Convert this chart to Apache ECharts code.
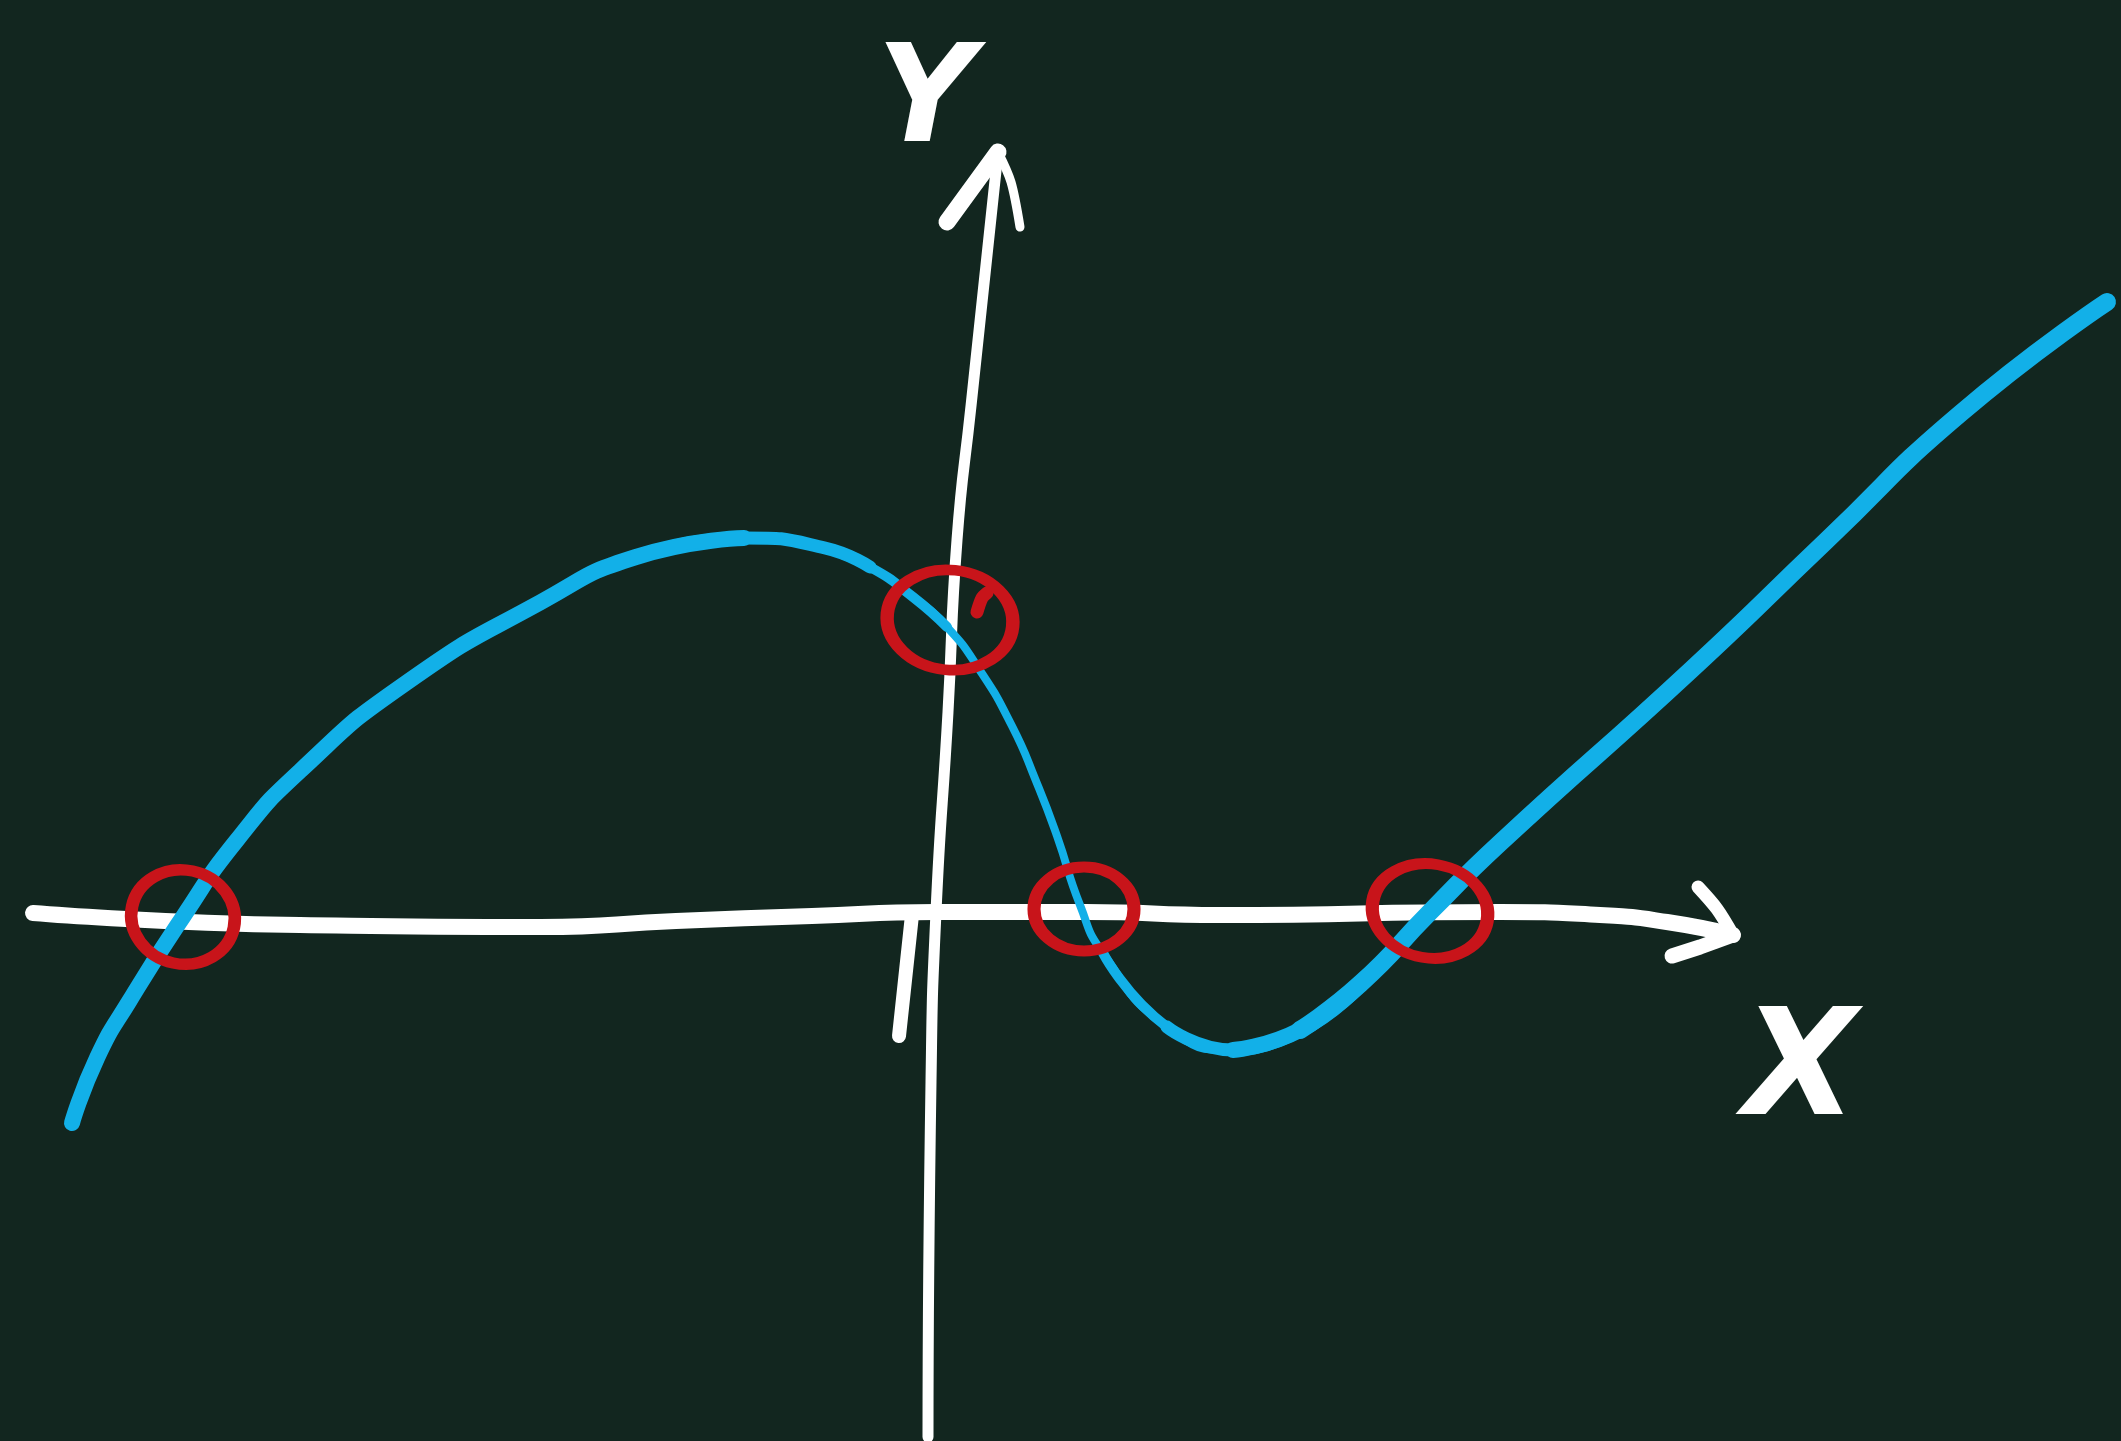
<!DOCTYPE html>
<html>
<head>
<meta charset="utf-8">
<style>
  html, body { margin: 0; padding: 0; background: #12261f; }
  #chart { width: 2121px; height: 1441px; }
</style>
<script src="https://cdn.jsdelivr.net/npm/echarts@6/dist/echarts.min.js"></script>
</head>
<body>
<div id="chart"></div>
<script>
// Chalkboard sketch of a cubic-like function with its three roots
// and its y-intercept circled. Units: x-axis is y = 0, y-axis is x = 0.

// graph of f, traced left to right
const curve = [
  [-8.64, -2.11], [-8.39, -1.46], [-8.06, -0.88], [-7.53, -0.05],
  [-6.99, 0.72], [-6.36, 1.41], [-5.30, 2.29], [-3.95, 3.10],
  [-3.00, 3.55], [-1.92, 3.74], [-1.11, 3.64], [-0.66, 3.45],
  [-0.23, 3.15], [0.11, 2.85], [0.43, 2.43], [0.76, 1.86],
  [1.00, 1.31], [1.21, 0.76], [1.44, 0.07], [1.67, -0.41],
  [2.31, -1.15], [2.97, -1.38], [3.64, -1.18], [4.24, -0.72],
  [4.94, 0.00], [5.64, 0.69], [7.55, 2.42], [8.90, 3.71],
  [10.25, 4.99], [11.71, 6.10]
];

// the three roots and the y-intercept
const marked = [
  [-7.53, -0.05], [0.14, 2.92], [1.48, 0.03], [4.94, 0.01]
];

// hand-drawn x-axis with its arrowhead
const xAxisStroke = [
  [-9.03, -0.01], [-6.36, -0.13], [-3.95, -0.15], [-2.60, -0.09],
  [-1.24, -0.04], [0.00, 0.00], [1.50, 0.00], [2.84, -0.03],
  [5.64, 0.00], [6.64, -0.03], [7.31, -0.10], [7.97, -0.23]
];
const xArrowUpper = [[7.62, 0.25], [7.81, 0.03], [7.97, -0.23]];
const xArrowLower = [[7.97, -0.23], [7.64, -0.35], [7.36, -0.44]];

// hand-drawn y-axis with its arrowhead
const yAxisStroke = [
  [0.62, 7.60], [0.35, 5.06], [0.21, 3.72], [0.12, 2.00],
  [0.00, 0.00], [-0.05, -1.70], [-0.08, -5.25]
];
const yArrowLeft = [[0.11, 6.90], [0.62, 7.60]];
const yArrowRight = [[0.62, 7.60], [0.75, 7.30], [0.84, 6.85]];

// small tick just left of the origin
const originTick = [[-0.24, -0.03], [-0.37, -1.24]];

// little flick of chalk inside the intercept ring
const ringFlick = [[0.41, 3.00], [0.46, 3.14], [0.51, 3.19]];

// axis names
const axisNames = [
  { name: 'Y', value: [-0.10, 8.06] },
  { name: 'X', value: [8.64, -1.64] }
];

// ---- styling ----
const BG = '#12261f';
const CHALK = '#ffffff';
const BLUE = '#12b0e8';
const RED = '#c8141a';
const SMOOTH = 0.55;

// pen pressure along the curve: a thin base stroke plus heavier passes
// [from index, to index, width]
const curveBase = 8;
const curvePasses = [
  [0, 9, 16], [8, 11, 13], [10, 13, 10],
  [19, 21, 10], [20, 22, 13], [21, 23, 16], [22, 29, 18]
];
const ringSizes = [[104, 94], [126, 100], [100, 84], [116, 94]];
const ringTilt = [-12, -6, 0, -10];
const nameSizes = { Y: 135, X: 148 };

const ringPath = 'path://M50,0 C77.6,0 100,22.4 100,50 C100,77.6 77.6,100 50,100 C22.4,100 0,77.6 0,50 C0,22.4 22.4,0 50,0 Z';

function stroke(data, color, width, smooth, z) {
  return {
    type: 'line',
    data: data,
    smooth: smooth,
    symbol: 'none',
    silent: true,
    lineStyle: { color: color, width: width, cap: 'round', join: 'round', opacity: 1 },
    z: z || 2
  };
}

const series = [];
series.push(stroke(xAxisStroke, CHALK, 16, SMOOTH, 2));
series.push(stroke(xArrowUpper, CHALK, 13, 0.3, 2));
series.push(stroke(xArrowLower, CHALK, 15, 0, 2));
series.push(stroke(yAxisStroke, CHALK, 11, SMOOTH, 2));
series.push(stroke(yArrowLeft, CHALK, 17, 0, 2));
series.push(stroke(yArrowRight, CHALK, 9, 0.3, 2));
series.push(stroke(originTick, CHALK, 14, 0, 2));

series.push(stroke(curve, BLUE, curveBase, SMOOTH, 3));
curvePasses.forEach(function (s) {
  series.push(stroke(curve.slice(s[0], s[1] + 1), BLUE, s[2], SMOOTH, 3));
});

series.push({
  type: 'scatter',
  silent: true,
  z: 4,
  data: marked.map(function (p, i) {
    return {
      value: p,
      symbolSize: ringSizes[i],
      symbolRotate: ringTilt[i]
    };
  }),
  symbol: ringPath,
  itemStyle: { color: 'rgba(0,0,0,0)', borderColor: RED, borderWidth: 12, opacity: 1 }
});
series.push(stroke(ringFlick, RED, 13, 0.3, 4));

series.push({
  type: 'scatter',
  silent: true,
  z: 5,
  symbolSize: 1,
  itemStyle: { color: 'rgba(0,0,0,0)', opacity: 1 },
  data: axisNames.map(function (d) {
    return {
      name: d.name,
      value: d.value,
      label: { fontSize: nameSizes[d.name] }
    };
  }),
  label: {
    show: true,
    position: 'inside',
    formatter: '{b}',
    color: CHALK,
    fontFamily: '"DejaVu Sans", sans-serif',
    fontStyle: 'italic',
    fontWeight: 'bold'
  }
});

const chart = echarts.init(document.getElementById('chart'), null, { renderer: 'canvas' });
chart.setOption({
  backgroundColor: BG,
  animation: false,
  grid: { left: 0, right: 0, top: 0, bottom: 0, containLabel: false },
  xAxis: { type: 'value', min: -9.36, max: 11.85, show: false },
  yAxis: { type: 'value', min: -5.29, max: 9.12, show: false },
  series: series
});
</script>
</body>
</html>
